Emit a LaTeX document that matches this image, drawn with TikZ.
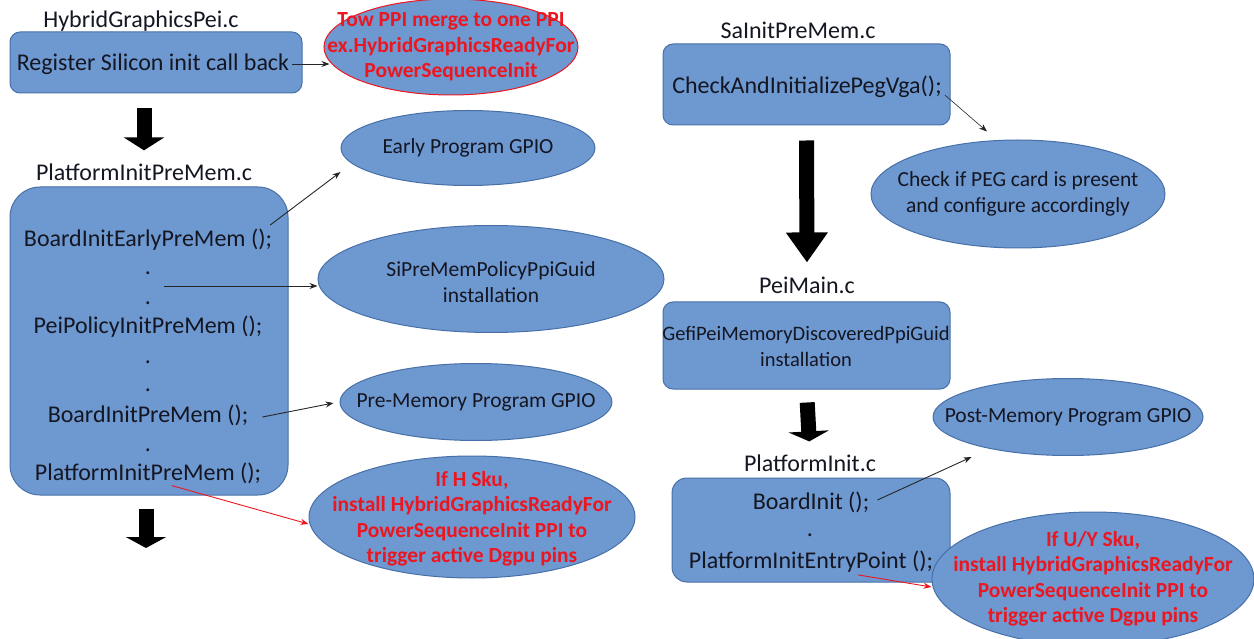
\documentclass[tikz,border=0pt]{standalone}
\usepackage{fontspec}
\setmainfont{Carlito}
\usetikzlibrary{shapes.geometric,arrows.meta}
\definecolor{boxfill}{RGB}{110,152,208}
\definecolor{boxline}{RGB}{72,112,168}
\definecolor{warnred}{RGB}{236,22,32}
\definecolor{ink}{RGB}{20,22,34}
\tikzset{
  block/.style={draw=boxline, fill=boxfill, line width=1pt, inner sep=0pt, rounded corners=10pt},
  oval/.style={ellipse, draw=boxline, fill=boxfill, line width=1pt, inner sep=0pt},
  title/.style={font=\fontsize{24}{28}\selectfont, text=ink, inner sep=0pt},
  lbl/.style={font=\fontsize{24}{28}\selectfont, text=ink, inner sep=0pt},
  otext/.style={font=\fontsize{21.5}{26}\selectfont, text=ink, inner sep=0pt, align=center},
  wtext/.style={font=\fontsize{21.5}{25.5}\selectfont\bfseries, text=warnred, inner sep=0pt, align=center},
  thinarrow/.style={draw=black!85, line width=0.9pt, -{Stealth[length=8pt,width=6pt]}},
  redarrow/.style={draw=warnred, line width=0.9pt, -{Stealth[length=8pt,width=6pt]}},
  bigarrow/.style={draw=black, line width=15pt, -{Triangle[width=40pt,length=#1]}},
  bigarrow/.default=12pt
}
\begin{document}
\begin{tikzpicture}[x=1pt,y=-1pt]
\useasboundingbox (0,0) rectangle (1254,639);

% ---------- left column: HybridGraphicsPei / PlatformInitPreMem ----------
\node[title] (t1) at (141,21) {HybridGraphicsPei.c};
\node[block, minimum width=292pt, minimum height=61pt] (b1) at (156,62.5) {};
\node[lbl] (b1t) at (153,64) {Register Silicon init call back};

\node[oval, draw=warnred, minimum width=254pt, minimum height=96pt] (tow) at (451,47) {};
\node[wtext] (towt) at (tow.center) {Tow PPI merge to one PPI\\ex.HybridGraphicsReadyFor\\PowerSequenceInit};

\node[title] (t2) at (144,172) {PlatformInitPreMem.c};
\node[block, rounded corners=30pt, minimum width=278pt, minimum height=308pt] (b2) at (149,341) {};
\node[lbl] (e1) at (148,240) {BoardInitEarlyPreMem ();};
\node[lbl] (d1) at (148,273) {.};
\node[lbl] (d2) at (148,303) {.};
\node[lbl] (ppol) at (148,327) {PeiPolicyInitPreMem ();};
\node[lbl] (d3) at (148,362) {.};
\node[lbl] (d4) at (148,390) {.};
\node[lbl] (bipm) at (148,415) {BoardInitPreMem ();};
\node[lbl] (d5) at (148,450) {.};
\node[lbl] (ppm) at (148,473) {PlatformInitPreMem ();};
\coordinate (mid1) at (164,286);
\coordinate (next1) at (146,548);

\node[oval, minimum width=254pt, minimum height=75pt] (early) at (468,148) {};
\node[otext] (earlyt) at (early.center) {Early Program GPIO};
\node[oval, minimum width=346pt, minimum height=107pt] (sipre) at (491,279) {};
\node[otext] (sipret) at ([yshift=-3pt]sipre.center) {SiPreMemPolicyPpiGuid\\installation};
\node[oval, minimum width=272pt, minimum height=77pt] (pre) at (476,402) {};
\node[otext] (pret) at (pre.center) {Pre-Memory Program GPIO};
\node[oval, minimum width=326pt, minimum height=122pt] (hsku) at (472,517) {};
\node[wtext] (hskut) at ([yshift=-2pt]hsku.center) {If H Sku,\\install HybridGraphicsReadyFor\\PowerSequenceInit PPI to\\trigger active Dgpu pins};

% ---------- right column: SaInitPreMem / PeiMain / PlatformInit ----------
\node[title] (t3) at (798,30) {SaInitPreMem.c};
\node[block, minimum width=287pt, minimum height=81pt] (b3) at (806.5,84.5) {};
\node[lbl] (b3t) at (807,87) {CheckAndInitializePegVga();};
\node[oval, minimum width=294pt, minimum height=108pt] (peg) at (1018,194) {};
\node[otext] (pegt) at (peg.center) {Check if PEG card is present\\and configure accordingly};

\node[title] (t4) at (807,285) {PeiMain.c};
\node[block, minimum width=287pt, minimum height=87pt] (b4) at (806.5,345.5) {};
\node[font=\fontsize{20.5}{26}\selectfont, text=ink, inner sep=0pt, align=center] (b4t) at (806,346) {GefiPeiMemoryDiscoveredPpiGuid\\installation};
\node[oval, minimum width=270pt, minimum height=77pt] (post) at (1068,417) {};
\node[otext] (postt) at (post.center) {Post-Memory Program GPIO};

\node[title] (t5) at (810,463) {PlatformInit.c};
\node[block, rounded corners=15pt, minimum width=278pt, minimum height=104pt] (b5) at (811,530) {};
\node[lbl] (bi) at (811,502) {BoardInit ();};
\node[lbl] (d6) at (810,535) {.};
\node[lbl] (pie) at (811,562) {PlatformInitEntryPoint ();};
\node[oval, minimum width=322pt, minimum height=134pt] (uy) at (1093,579) {};
\node[wtext] (uyt) at ([yshift=0pt]uy.center) {If U/Y Sku,\\install HybridGraphicsReadyFor\\PowerSequenceInit PPI to\\trigger active Dgpu pins};

% ---------- flow arrows ----------
\draw[bigarrow=13pt, shorten <=15pt, shorten >=13pt] (t2.north |- b1.south) -- (t2.north);
\draw[bigarrow=11pt, shorten <=13pt] (b2.south -| next1) -- (next1);
\draw[bigarrow=30pt, shorten <=15pt, shorten >=14pt] (b3.south) -- (t4.north);
\draw[bigarrow=10pt, shorten <=13pt, shorten >=13pt] (b4.south) -- (t5.north);

% ---------- call arrows ----------
\draw[thinarrow] ([xshift=3pt]b1t.east) -- ([xshift=6pt]b1t.east -| tow.west);
\draw[thinarrow] ([shift={(-2,-15)}]e1.east) -- ([shift={(0,24)}]early.west);
\draw[thinarrow] (mid1) -- (mid1 -| sipre.west);
\draw[thinarrow] ([shift={(14,2)}]bipm.east) -- ([shift={(-6,1)}]pre.west);
\draw[redarrow] ([shift={(24,2)}]ppm.south) -- ([shift={(0,7)}]hsku.west);
\draw[thinarrow, line width=0.6pt] ([shift={(3,8)}]b3t.east) -- ([shift={(-31,-8)}]peg.north);
\draw[thinarrow] ([shift={(8,-2)}]bi.east) -- ([shift={(39,40)}]post.west);
\draw[redarrow] ([shift={(47,2)}]pie.south) -- ([shift={(0,8)}]uy.west);
\end{tikzpicture}
\end{document}
